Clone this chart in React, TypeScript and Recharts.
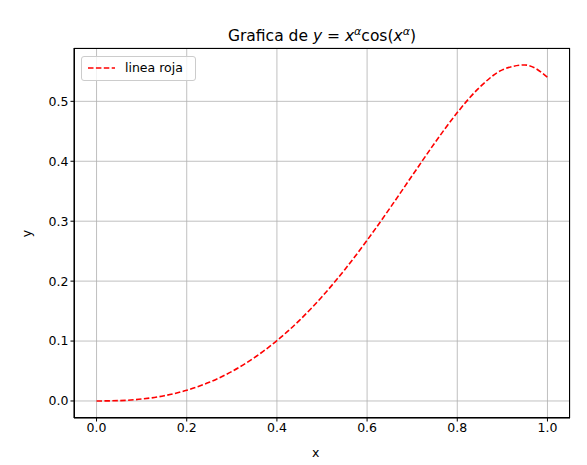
import { LineChart, Line, XAxis, YAxis, CartesianGrid } from 'recharts';

// x positions and y values
const xValues = [0, 0.05, 0.1, 0.15, 0.2, 0.25, 0.3, 0.35, 0.4, 0.45, 0.5, 0.55, 0.6, 0.65, 0.7, 0.75, 0.8, 0.85, 0.9, 0.95, 1.0];
const yValues = [0, 0.0006, 0.0032, 0.0087, 0.0179, 0.0312, 0.0492, 0.0723, 0.1007, 0.1346, 0.174, 0.2187, 0.2681, 0.3211, 0.376, 0.4305, 0.4812, 0.5237, 0.5525, 0.5607, 0.5403];
const xTicks = [0, 0.2, 0.4, 0.6, 0.8, 1.0];
const yTicks = [0, 0.1, 0.2, 0.3, 0.4, 0.5];

const data = xValues.map((x, i) => ({ x, y: yValues[i] }));

const font = '"DejaVu Sans", sans-serif';

export default function App() {
    return (
        <div style={{ position: 'absolute', left: 0, top: 0, width: 587, height: 465, background: '#fff', fontFamily: font }}>
            <LineChart width={587} height={465} data={data} margin={{ top: 48, right: 17, bottom: 27, left: 34 }}>
                <CartesianGrid stroke="#b0b0b0" strokeWidth={0.8} />
                <XAxis
                    dataKey="x"
                    type="number"
                    domain={[-0.05, 1.05]}
                    ticks={xTicks}
                    tickFormatter={(v: number) => v.toFixed(1)}
                    height={20}
                    stroke="#000"
                    tickSize={3.5}
                    tick={{ fill: '#000', fontSize: 12.5, fontFamily: font }}
                    allowDataOverflow
                />
                <YAxis
                    type="number"
                    domain={[-0.0284, 0.589]}
                    ticks={yTicks}
                    tickFormatter={(v: number) => v.toFixed(1)}
                    width={40}
                    stroke="#000"
                    tickSize={3.5}
                    tick={{ fill: '#000', fontSize: 12.5, fontFamily: font }}
                    allowDataOverflow
                />
                <Line
                    dataKey="y"
                    type="monotone"
                    stroke="#ff0000"
                    strokeWidth={1.6}
                    strokeDasharray="5.5 2.4"
                    dot={false}
                    isAnimationActive={false}
                />
            </LineChart>
            {/* frame */}
            <div style={{ position: 'absolute', left: 74, top: 48, width: 496, height: 370, border: '1px solid #000', boxSizing: 'border-box', pointerEvents: 'none' }} />
            {/* title */}
            <div style={{ position: 'absolute', left: 74, width: 496, top: 22, textAlign: 'center', fontSize: 15.5, lineHeight: '20px', color: '#000', whiteSpace: 'nowrap' }}>
                Grafica de <i>y</i> = <i>x</i><sup style={{ fontSize: 11, verticalAlign: '6px' }}><i>α</i></sup>cos(<i>x</i><sup style={{ fontSize: 11, verticalAlign: '6px' }}><i>α</i></sup>)
            </div>
            {/* axis labels */}
            <div style={{ position: 'absolute', left: 312, top: 445, fontSize: 12.5, color: '#000' }}>x</div>
            <div style={{ position: 'absolute', left: 23, top: 226, fontSize: 12.5, color: '#000', transform: 'rotate(-90deg)' }}>y</div>
            {/* legend */}
            <div style={{ position: 'absolute', left: 81, top: 56, width: 115, height: 25, border: '1px solid #cccccc', borderRadius: 3, background: 'rgba(255,255,255,0.8)', boxSizing: 'border-box' }}>
                <svg width={30} height={10} style={{ position: 'absolute', left: 5, top: 6 }}>
                    <line x1={1} y1={5} x2={28} y2={5} stroke="#ff0000" strokeWidth={1.6} strokeDasharray="5.5 2.4" />
                </svg>
                <span style={{ position: 'absolute', left: 43, top: 3, fontSize: 12.5, color: '#000', whiteSpace: 'nowrap' }}>linea roja</span>
            </div>
        </div>
    );
}
